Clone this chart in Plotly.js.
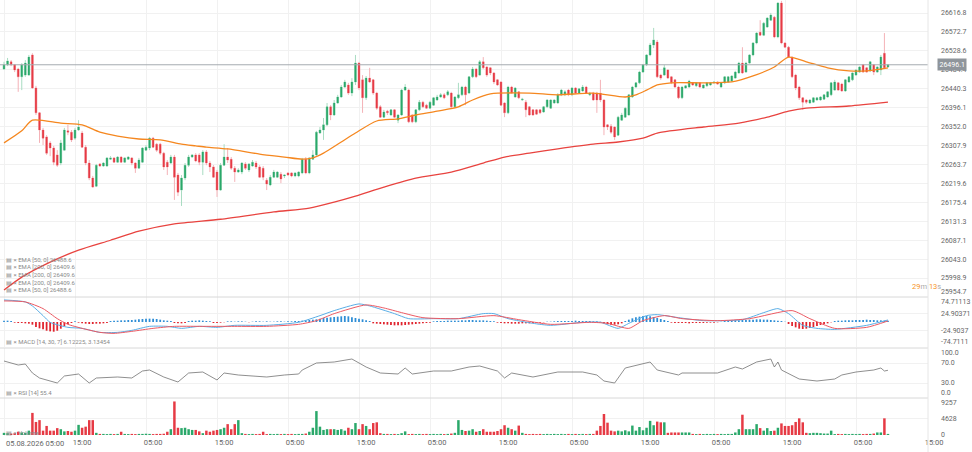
<!DOCTYPE html>
<html><head><meta charset="utf-8">
<script src="https://cdn.plot.ly/plotly-3.0.1.min.js"></script>
<style>html,body{margin:0;padding:0;background:#fff}#chart{width:972px;height:452px}</style>
</head><body><div id="chart"></div>
<script>
// ---- price candles ----
const open = [26486,26496,26503,26496,26486,26468,26472,26472,26519,26442,
26384,26344,26328,26314,26302,26286,26267,26297,26342,26339,
26325,26344,26337,26304,26267,26232,26213,26265,26260,26260,
26276,26279,26269,26281,26269,26276,26279,26267,26255,26269,
26297,26302,26325,26311,26311,26290,26269,26267,26281,26239,
26204,26232,26262,26281,26286,26286,26269,26293,26267,26258,
26246,26204,26262,26281,26276,26255,26246,26246,26265,26251,
26260,26267,26258,26255,26227,26216,26234,26234,26241,26237,
26244,26244,26237,26237,26244,26276,26244,26276,26286,26337,
26344,26356,26398,26379,26407,26421,26444,26449,26430,26456,
26500,26461,26419,26465,26461,26430,26398,26374,26388,26379,
26391,26367,26379,26437,26437,26379,26363,26391,26409,26402,
26395,26402,26414,26421,26426,26426,26430,26398,26419,26426,
26444,26430,26468,26486,26472,26503,26491,26489,26477,26461,
26456,26407,26384,26444,26421,26433,26414,26409,26398,26391,
26391,26391,26386,26398,26395,26407,26407,26426,26426,26437,
26426,26442,26430,26435,26444,26426,26430,26430,26430,26414,
26356,26353,26351,26332,26367,26374,26379,26421,26444,26454,
26479,26496,26519,26542,26549,26472,26472,26484,26468,26461,
26444,26419,26442,26444,26454,26447,26454,26442,26447,26449,
26454,26456,26444,26454,26456,26458,26465,26477,26500,26479,
26500,26519,26547,26572,26565,26584,26600,26607,26561,26640,
26547,26537,26514,26472,26444,26419,26414,26407,26409,26414,
26414,26416,26421,26426,26437,26454,26451,26435,26456,26461,
26472,26479,26496,26489,26482,26496,26479,26484,26523,26491];
const close = [26496,26505,26496,26484,26468,26496,26500,26514,26442,26384,
26344,26325,26290,26302,26269,26262,26314,26344,26339,26321,
26344,26351,26304,26267,26232,26211,26262,26260,26267,26279,
26279,26269,26281,26269,26279,26281,26267,26255,26274,26302,
26304,26325,26304,26297,26290,26258,26258,26281,26234,26199,
26232,26262,26281,26286,26272,26269,26293,26267,26258,26234,
26204,26262,26281,26274,26255,26246,26251,26267,26255,26265,
26269,26258,26234,26234,26218,26234,26246,26246,26230,26239,
26239,26237,26244,26246,26276,26244,26279,26286,26339,26344,
26356,26398,26379,26407,26421,26444,26456,26430,26456,26500,
26442,26419,26465,26456,26430,26395,26374,26386,26384,26391,
26374,26379,26437,26444,26363,26363,26391,26409,26398,26395,
26409,26419,26421,26426,26419,26433,26398,26421,26426,26444,
26426,26468,26486,26468,26503,26489,26472,26477,26456,26449,
26402,26384,26444,26430,26442,26419,26416,26391,26379,26379,
26381,26384,26398,26414,26414,26414,26426,26437,26433,26426,
26442,26430,26440,26444,26430,26430,26414,26414,26414,26351,
26351,26339,26328,26374,26379,26395,26426,26444,26454,26479,
26496,26519,26542,26554,26468,26465,26489,26465,26454,26444,
26419,26444,26447,26458,26449,26454,26444,26449,26454,26454,
26456,26451,26454,26468,26468,26470,26479,26500,26477,26500,
26519,26547,26570,26565,26593,26605,26612,26561,26640,26547,
26537,26514,26468,26442,26419,26409,26409,26414,26419,26419,
26421,26426,26433,26454,26456,26437,26435,26461,26468,26477,
26484,26491,26479,26479,26503,26479,26491,26514,26489,26496];
const high = [26503,26512,26507,26498,26489,26500,26507,26519,26523,26447,
26386,26349,26332,26318,26307,26297,26321,26349,26356,26344,
26349,26367,26342,26309,26274,26237,26265,26267,26269,26281,
26283,26281,26283,26283,26281,26283,26281,26269,26279,26304,
26309,26328,26328,26314,26314,26293,26274,26286,26286,26244,
26239,26267,26286,26288,26290,26290,26297,26297,26272,26262,
26251,26267,26311,26302,26281,26260,26255,26269,26269,26267,
26274,26272,26262,26260,26232,26239,26251,26248,26246,26241,
26246,26246,26246,26248,26279,26281,26281,26297,26342,26351,
26372,26407,26402,26414,26426,26449,26461,26454,26465,26519,
26503,26472,26470,26489,26463,26433,26402,26391,26391,26393,
26393,26381,26440,26451,26440,26381,26393,26414,26412,26405,
26412,26421,26426,26430,26430,26437,26433,26423,26454,26447,
26447,26470,26491,26489,26507,26514,26493,26491,26479,26463,
26458,26409,26447,26447,26444,26435,26419,26414,26400,26393,
26393,26393,26400,26416,26416,26416,26430,26440,26437,26440,
26444,26444,26442,26449,26447,26433,26433,26433,26461,26416,
26358,26358,26353,26377,26384,26398,26428,26447,26456,26482,
26498,26521,26547,26582,26554,26475,26496,26486,26470,26463,
26447,26447,26449,26461,26456,26456,26456,26451,26456,26456,
26458,26458,26456,26470,26470,26472,26482,26503,26537,26503,
26521,26549,26572,26600,26596,26607,26617,26610,26642,26645,
26549,26540,26516,26475,26447,26421,26416,26416,26421,26421,
26423,26428,26435,26456,26461,26456,26454,26463,26470,26479,
26486,26493,26498,26491,26505,26498,26493,26519,26570,26498];
const low = [26484,26493,26493,26479,26433,26437,26468,26470,26440,26379,
26314,26309,26286,26283,26262,26258,26262,26297,26332,26316,
26321,26342,26302,26262,26227,26209,26211,26258,26258,26258,
26274,26267,26267,26267,26267,26274,26262,26244,26255,26267,
26295,26297,26302,26293,26286,26251,26239,26265,26181,26190,
26167,26227,26258,26279,26269,26262,26239,26262,26246,26232,
26188,26202,26260,26267,26251,26223,26244,26241,26251,26246,
26258,26253,26232,26227,26204,26213,26232,26232,26220,26232,
26237,26234,26234,26234,26241,26241,26241,26274,26283,26335,
26321,26353,26367,26377,26405,26419,26442,26426,26423,26449,
26437,26384,26414,26454,26426,26391,26372,26372,26379,26377,
26372,26360,26377,26435,26360,26360,26360,26388,26395,26393,
26393,26400,26412,26419,26416,26423,26395,26395,26416,26423,
26402,26428,26465,26465,26470,26486,26468,26472,26451,26447,
26400,26374,26381,26428,26419,26416,26412,26374,26377,26377,
26379,26381,26384,26395,26393,26405,26405,26423,26423,26423,
26423,26428,26428,26433,26428,26423,26412,26384,26409,26332,
26344,26335,26321,26330,26365,26372,26377,26419,26442,26451,
26477,26493,26516,26535,26465,26461,26470,26463,26451,26442,
26416,26416,26440,26442,26447,26444,26442,26440,26444,26447,
26451,26449,26442,26451,26454,26456,26463,26475,26475,26477,
26498,26516,26544,26563,26563,26582,26598,26558,26558,26544,
26535,26512,26465,26437,26414,26391,26405,26405,26407,26412,
26412,26414,26419,26423,26435,26435,26433,26433,26454,26458,
26470,26477,26477,26477,26479,26472,26477,26472,26486,26489];
const volume = [600,500,400,500,900,700,600,1200,
6100,3600,4100,1200,2500,1200,1200,1900,1600,1000,1100,900,1200,2800,2000,2300,4100,4100,600,
300,300,250,300,250,300,900,
300,250,300,250,300,300,350,300,250,300,300,350,
900,1600,9257,2000,1900,2000,1600,1400,1400,1000,500,1200,900,1200,1400,1600,2000,3000,1600,3000,4100,500,
300,250,300,250,300,900,
250,300,250,300,250,300,250,300,250,300,300,400,
900,2000,6600,2300,1400,1600,1600,1600,1400,1600,1200,2000,1600,3300,1600,3000,2500,1600,3300,3500,500,300,
300,250,300,250,500,1000,
250,300,250,300,250,300,250,300,250,300,250,300,400,
600,4100,1400,1100,1200,1600,900,1100,1600,900,900,900,1100,1600,2700,2000,1600,1200,2600,600,
300,250,300,250,300,250,300,250,300,250,300,250,300,250,300,250,300,250,300,
300,1200,2500,5800,3400,1200,1000,1200,1000,1300,1000,2600,1200,2200,1300,2000,3900,2700,3700,3500,3500,600,700,700,700,700,700,700,300,
250,300,250,300,250,300,250,300,250,300,300,
700,1600,5600,1600,1600,1600,3000,1900,1200,1900,1100,1200,2000,3200,2500,2500,2700,3600,4600,3500,600,500,600,600,500,400,400,1200,
250,300,250,300,250,300,250,300,250,300,300,400,
700,700,4600,300];

// ---- moving averages (read at sample bars) ----
const ema50Idx = [0,5,8,16,22,27,32,38,44,50,54,57,63,72,79,84,87,90,95,99,105,111,116,122,128,132,137,148,156,166,175,178,181,184,188,197,205,211,217,221,226,232,238,243,249];
const ema50Val = [26314,26342,26367,26360,26356,26339,26330,26323,26321,26311,26307,26304,26300,26288,26281,26276,26279,26290,26316,26337,26365,26370,26379,26388,26398,26414,26428,26430,26426,26430,26421,26426,26437,26449,26454,26454,26456,26470,26491,26514,26503,26489,26482,26482,26489];
const ema200Idx = [0,5,13,21,30,38,48,61,76,86,93,99,107,116,126,135,141,148,156,166,173,180,184,197,207,215,221,226,238,249];
const ema200Val = [25971,26001,26036,26064,26087,26108,26125,26136,26153,26162,26176,26190,26211,26232,26246,26267,26281,26290,26300,26311,26316,26325,26337,26351,26360,26374,26388,26395,26400,26409];

// ---- MACD ----
const macdIdx = [0,6,8,11,13,18,22,27,32,36,41,46,50,55,60,65,74,83,89,93,100,103,110,114,121,128,135,138,142,149,154,163,168,173,176,181,184,190,197,208,214,218,221,225,229,234,243,249];
const macdVal = [66,60,48,19,-1,-16,-19,-31,-31,-25,-13,-13,-19,-13,-16,-10,-10,-1,19,34,54,48,25,10,10,10,25,25,10,-4,-10,-1,-1,-19,-4,19,22,13,4,7,28,40,25,-10,-19,-22,-10,6.1];
const signalIdx = [0,6,11,15,18,22,27,31,36,42,48,55,65,74,83,88,93,102,107,112,118,128,138,145,154,165,170,176,180,186,191,201,210,222,227,234,243,249];
const signalVal = [63,60,40,10,-7,-19,-31,-34,-28,-19,-13,-13,-13,-13,-7,4,25,51,42,28,13,10,19,7,-7,-1,-4,-19,4,19,10,4,10,34,10,-19,-16,3.1];
const macdHist = [4,4,3,
-2,-3,-3,-4,-5,
-8,-15,-19,-22,-26,-28,-29,-26,-20,-12,-6,
-3,2,-2,
-4,-5,-6,-6,-5,-5,-4,-3,
3,4,4,5,5,6,6,7,8,9,10,10,10,9,7,5,4,3,
-3,-4,-4,-3,
3,4,4,5,4,3,2,
-3,-3,-2,-1,
2,2,1,2,2,1,-1,1,2,2,1,2,1,1,2,2,1,2,2,3,
3,4,5,6,7,8,10,12,13,14,15,16,17,18,17,14,12,10,8,5,3,
-4,-5,-6,-7,-8,-9,-10,-10,-10,-9,-8,-7,-6,-5,-4,-3,-2,
2,3,3,3,4,4,4,4,
5,5,6,6,5,5,5,4,3,2,
-2,-3,-4,-4,-5,-5,-5,-4,-4,-4,-3,-3,-2,-1,
1,1,
2,3,3,3,3,3,4,3,3,3,3,2,2,1,
-4,-7,-8,-8,-7,-4,
3,7,11,14,16,18,18,17,15,12,9,6,3,
-2,-3,-3,-3,-3,-4,-3,-3,-3,-3,-2,-2,-2,-1,
1,
3,4,4,5,5,6,6,7,7,8,8,7,7,6,5,4,3,
1,
-6,-12,-16,-20,-21,-20,-18,-15,-12,-9,-6,-4,
-1,
3,4,4,5,5,5,6,6,6,7,6,6,5,5,4,4];

// ---- RSI ----
const rsiIdx = [0,4,6,8,10,15,17,21,24,26,32,36,39,41,45,49,52,56,60,62,66,74,79,83,84,88,93,98,102,106,111,113,115,121,126,131,134,139,141,143,149,156,163,167,169,172,175,182,184,190,191,201,206,208,212,216,217,218,219,224,229,234,236,240,245,247,248,249];
const rsiVal = [74,66,68,50,40,30,44,48,30,40,42,40,54,56,42,32,50,52,36,50,46,42,46,48,56,70,72,78,62,50,48,60,48,54,54,62,64,54,40,50,42,52,52,46,34,30,60,72,56,46,50,50,62,58,72,78,62,72,56,38,34,38,46,52,56,60,54,55.4];

// ---- axis ticks and labels ----
const timeTickIdx = [0,20,40,60,80,100,120,140,160,180,200,220,240,260];
const timeTickText = ['','15:00','05:00','15:00','05:00','15:00','05:00','15:00','05:00','15:00','05:00','15:00','05:00','15:00'];
const firstTimeLabel = '05.08.2026 05:00';
const priceTicks = [25954.7,25998.9,26043.0,26087.1,26131.3,26175.4,26219.6,26263.7,26307.9,26352.0,26396.1,26440.3,26484.4,26528.6,26572.7,26616.8];
const macdTicks = [-74.7111,-24.9037,24.90371,74.71113];
const macdTickText = ['-74.7111','-24.9037','24.90371','74.71113'];
const rsiTicks = [0,30,70,100];
const volTicks = [0,4628,9257];
const lastPrice = 26496.1;
const legendMain = ['EMA [50, 0] 26488.6','EMA [200, 0] 26409.6','EMA [200, 0] 26409.6','EMA [200, 0] 26409.6','EMA [50, 0] 26488.6'];
const legendMacd = 'MACD [14, 30, 7] 6.12225, 3.13454';
const legendRsi = 'RSI [14] 55.4';
const legendVol = 'Volume';

// ---- build ----
const idx = open.map((_, i) => i);
const isUp = close.map((c, i) => c >= open[i]);
const bodyTop = close.map((c, i) => Math.max(c, open[i]));
const bodyBot = close.map((c, i) => Math.min(c, open[i]));
const GREEN = '#2aa86a', RED = '#e63a44';

const traces = [
  {type:'candlestick', x:idx, open:open, high:high, low:low, close:close, xaxis:'x', yaxis:'y',
   increasing:{line:{color:'#a9dcc2', width:1}, fillcolor:'#a9dcc2'},
   decreasing:{line:{color:'#f4b2b7', width:1}, fillcolor:'#f4b2b7'},
   whiskerwidth:0, hoverinfo:'skip'},
  {type:'candlestick', x:idx, open:open, high:bodyTop, low:bodyBot, close:close, xaxis:'x', yaxis:'y',
   increasing:{line:{color:GREEN, width:0}, fillcolor:GREEN},
   decreasing:{line:{color:RED, width:0}, fillcolor:RED},
   whiskerwidth:0, hoverinfo:'skip'},
  {type:'scatter', mode:'lines', x:ema200Idx, y:ema200Val, xaxis:'x', yaxis:'y',
   line:{color:'#e8433f', width:1.3, shape:'spline', smoothing:0.7}, hoverinfo:'skip'},
  {type:'scatter', mode:'lines', x:ema50Idx, y:ema50Val, xaxis:'x', yaxis:'y',
   line:{color:'#f5871f', width:1.3, shape:'spline', smoothing:0.7}, hoverinfo:'skip'},
  {type:'bar', x:idx, y:macdHist, xaxis:'x', yaxis:'y2', width:0.5,
   marker:{color:macdHist.map(v => v >= 0 ? '#2f8ed6' : '#e0242e')}, hoverinfo:'skip'},
  {type:'scatter', mode:'lines', x:macdIdx, y:macdVal, xaxis:'x', yaxis:'y2',
   line:{color:'#5aaee6', width:1, shape:'spline', smoothing:0.6}, hoverinfo:'skip'},
  {type:'scatter', mode:'lines', x:signalIdx, y:signalVal, xaxis:'x', yaxis:'y2',
   line:{color:'#ec5a63', width:1, shape:'spline', smoothing:0.6}, hoverinfo:'skip'},
  {type:'scatter', mode:'lines', x:rsiIdx, y:rsiVal, xaxis:'x', yaxis:'y3',
   line:{color:'#6a6a6a', width:0.75}, hoverinfo:'skip'},
  {type:'bar', x:idx, y:volume, xaxis:'x', yaxis:'y4', width:0.7,
   marker:{color:isUp.map(u => u ? GREEN : RED)}, hoverinfo:'skip'}
];

const PH = 436; // plot area height in px
const frac = px => (PH - px) / PH;
const axFont = {size:7, color:'#666', family:'Roboto, Arial, sans-serif'};
const yBase = {side:'right', zeroline:false, showline:false, gridcolor:'#f1f1f1', ticks:'',
  ticklabelstandoff:12, tickfont:axFont, anchor:'x', fixedrange:true};

const annotations = [];
const addNote = (o) => annotations.push(Object.assign({showarrow:false, xref:'paper', yref:'paper'}, o));
legendMain.forEach((t, k) => {
  addNote({x:0.004, y:frac(259 + k*7.7), xanchor:'left', yanchor:'middle',
    text:'▤ × ' + t, font:{size:6, color:'#8a8a8a'}});
});
addNote({x:0.004, y:frac(341), xanchor:'left', yanchor:'middle', text:'▤ × ' + legendMacd, font:{size:6, color:'#8a8a8a'}});
addNote({x:0.004, y:frac(392), xanchor:'left', yanchor:'middle', text:'▤ × ' + legendRsi, font:{size:6, color:'#8a8a8a'}});
addNote({x:0.004, y:frac(432), xanchor:'left', yanchor:'middle', text:'▤ × ' + legendVol, font:{size:6, color:'#8a8a8a'}});
addNote({x:4/928, y:frac(443), xanchor:'left', yanchor:'middle', text:firstTimeLabel, font:{size:7.5, color:'#666'}});
addNote({yref:'y', x:937/928, y:lastPrice, xanchor:'left', yanchor:'middle', text:lastPrice.toFixed(1),
  bgcolor:'#8f959b', borderpad:1.5, font:{size:7, color:'#ffffff'}});
addNote({x:926/928, y:frac(286.5), xanchor:'center', yanchor:'middle',
  text:'<span style="color:#f7941d">29</span><span style="color:#aaaaaa">m</span> <span style="color:#f7941d">13</span><span style="color:#aaaaaa">s</span>',
  font:{size:7.5}});

// edge tick labels sit inside their panel (as in the reference)
const edgeX = 940/928;
const edgeLabel = (text, pxEdge, anchor) => addNote({x:edgeX, y:frac(pxEdge), xanchor:'left', yanchor:anchor,
  text:text, font:axFont, borderpad:0});
edgeLabel(priceTicks[0].toFixed(1), 297, 'bottom');
edgeLabel(macdTickText[3], 297, 'top');
edgeLabel(macdTickText[0], 347, 'bottom');
edgeLabel(rsiTicks[3].toFixed(1), 348, 'top');
edgeLabel(rsiTicks[0].toFixed(1), 398, 'bottom');
edgeLabel(String(volTicks[2]), 398, 'top');

const sepColor = '#d8d8d8';
const shapes = [
  {type:'line', xref:'paper', yref:'y', x0:0, x1:1, y0:lastPrice, y1:lastPrice, line:{color:'#a6abb0', width:1}},
  {type:'line', xref:'paper', yref:'paper', x0:0, x1:1, y0:frac(297), y1:frac(297), line:{color:sepColor, width:1}},
  {type:'line', xref:'paper', yref:'paper', x0:0, x1:1, y0:frac(348), y1:frac(348), line:{color:sepColor, width:1}},
  {type:'line', xref:'paper', yref:'paper', x0:0, x1:1, y0:frac(398), y1:frac(398), line:{color:sepColor, width:1}},
  {type:'line', xref:'paper', yref:'paper', x0:1, x1:1, y0:frac(452), y1:1, line:{color:'#e6e6e6', width:1}}
];

const inner = a => a.slice(1, a.length - 1);
const layout = {
  width:972, height:452, margin:{l:0, r:44, t:0, b:16},
  paper_bgcolor:'#ffffff', plot_bgcolor:'#ffffff', showlegend:false, hovermode:false,
  font:{family:'Roboto, Arial, sans-serif', size:7, color:'#666'},
  xaxis:{range:[-1.13, 260.28], tickmode:'array', tickvals:timeTickIdx, ticktext:timeTickText,
    ticklabelshift:7, showgrid:true, gridcolor:'#f1f1f1', zeroline:false, showline:false, ticks:'',
    anchor:'y4', rangeslider:{visible:false}, tickfont:{size:7.5, color:'#666'}, fixedrange:true},
  yaxis:Object.assign({}, yBase, {domain:[frac(297), 1], range:[25954.7, 26647.1],
    tickmode:'array', tickvals:priceTicks.slice(1), ticktext:priceTicks.slice(1).map(v => v.toFixed(1))}),
  yaxis2:Object.assign({}, yBase, {domain:[frac(347), frac(297)], range:[-74.7111, 74.7111],
    tickmode:'array', tickvals:inner(macdTicks), ticktext:inner(macdTickText)}),
  yaxis3:Object.assign({}, yBase, {domain:[frac(398), frac(348)], range:[0, 100],
    tickmode:'array', tickvals:inner(rsiTicks), ticktext:inner(rsiTicks).map(v => v.toFixed(1))}),
  yaxis4:Object.assign({}, yBase, {domain:[0, frac(398)], range:[-276, 10212],
    tickmode:'array', tickvals:volTicks.slice(0, 2), ticktext:volTicks.slice(0, 2).map(v => String(v))}),
  annotations:annotations, shapes:shapes
};

Plotly.newPlot('chart', traces, layout, {displayModeBar:false, staticPlot:true});
</script>
</body></html>
